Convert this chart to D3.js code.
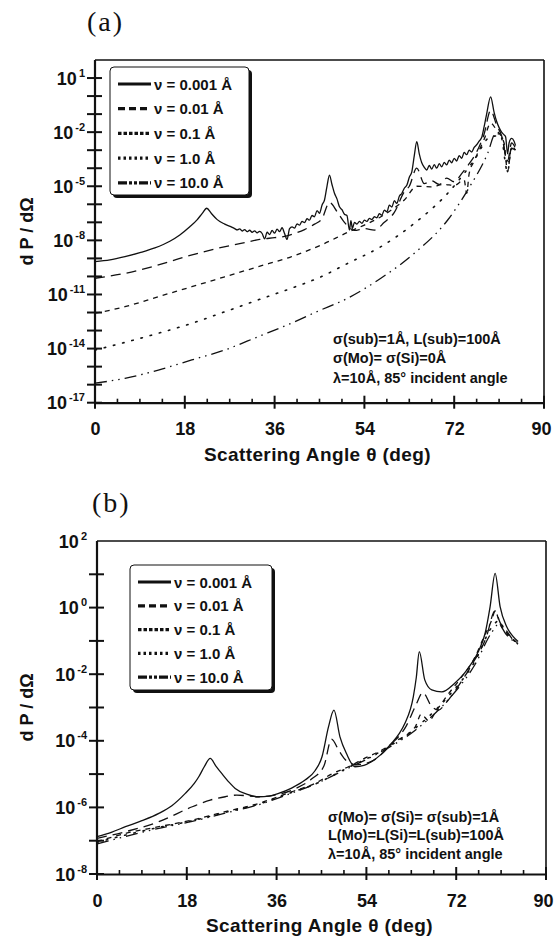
<!DOCTYPE html>
<html>
<head>
<meta charset="utf-8">
<script src="https://cdn.jsdelivr.net/npm/d3@7"></script>
<style>
  body { margin: 0; background: #fff; }
  text { font-family: "Liberation Sans", Arial, sans-serif; font-weight: bold; fill: #111; }
</style>
</head>
<body>
<svg id="chart" width="555" height="938"></svg>
<script>
// ---- data: scattering angle (deg) and log10(dP/dOmega) ----

// panel (a)
var a001Theta = [0, 3, 6, 9, 12, 15, 17, 19, 20.5, 21.5, 22.4, 23.3, 24.5, 26, 27.5, 28, 28.5, 29, 29.5, 30, 30.5, 31, 31.5, 32, 32.5, 33, 33.5, 34, 34.5, 35, 35.5, 36, 36.5, 37, 37.5, 38, 38.5, 39, 39.5, 40, 40.5, 41, 41.5, 42, 42.5, 43, 43.5, 44, 44.5, 45, 45.5, 46, 46.5, 47, 47.5, 48, 48.5, 49, 49.5, 50, 50.5, 51, 51.3, 51.6, 52, 52.5, 53, 53.5, 54, 54.5, 55, 55.5, 56, 56.5, 57, 57.5, 58, 58.5, 59, 59.5, 60, 60.5, 61, 61.5, 62, 62.5, 63, 63.5, 64, 64.5, 65, 65.5, 66, 66.5, 67, 67.5, 68, 68.5, 69, 69.5, 70, 70.5, 71, 71.5, 72, 72.5, 73, 73.5, 74, 74.5, 75, 75.5, 76, 76.5, 77, 77.5, 78, 78.5, 79.3, 80, 80.5, 81, 81.5, 82, 82.3, 82.7, 83, 83.5, 84, 84.3];
var a001Log = [-9.18, -9.08, -8.9, -8.68, -8.42, -8.05, -7.7, -7.25, -6.85, -6.5, -6.22, -6.5, -6.85, -7.1, -7.28, -7.35, -7.42, -7.36, -7.48, -7.4, -7.52, -7.44, -7.55, -7.47, -7.58, -7.5, -7.62, -7.92, -7.55, -7.68, -7.45, -7.6, -7.38, -7.52, -7.3, -7.62, -7.95, -7.35, -7.25, -7.32, -7.08, -7.15, -6.95, -7.02, -6.8, -6.88, -6.62, -6.69, -6.35, -6.5, -6.05, -5.76, -5.0, -4.38, -4.9, -5.39, -5.7, -6.14, -6.3, -6.55, -6.62, -7.43, -6.9, -7.35, -7.0, -7.1, -6.95, -7.05, -6.88, -6.95, -6.78, -6.85, -6.69, -6.75, -6.52, -6.6, -6.32, -6.42, -6.05, -6.15, -5.8, -5.95, -5.55, -5.4, -5.11, -4.95, -4.5, -4.2, -3.3, -2.53, -3.2, -3.7, -3.95, -4.1, -3.85, -4.05, -3.8, -4.0, -3.75, -3.92, -3.68, -3.82, -3.55, -3.7, -3.45, -3.6, -3.3, -3.45, -3.12, -3.25, -3.0, -3.1, -2.85, -2.7, -2.5, -2.3, -1.7, -1.0, -0.04, -0.9, -1.4, -1.75, -2.0, -2.15, -2.25, -3.2, -2.6, -2.35, -2.5, -2.75];

var a01Theta = [0, 6, 12, 18, 24, 30, 33, 36, 38, 40, 42, 44, 45.5, 47, 48.5, 50, 52, 54, 56, 58, 60, 62, 63, 64.5, 66, 67.5, 69, 70.5, 72, 73.5, 75, 76.5, 78, 79.3, 80.5, 81.5, 82.7, 83.5, 84.3];
var a01Log = [-10.1, -9.83, -9.42, -8.92, -8.48, -8.12, -7.95, -7.85, -7.78, -7.62, -7.4, -7.1, -6.8, -5.9, -6.4, -7.0, -7.45, -7.35, -7.43, -7.0, -6.45, -5.3, -5.0, -4.0, -4.85, -4.7, -4.9, -4.55, -4.75, -4.3, -3.75, -3.1, -2.1, -0.8, -1.6, -2.2, -3.6, -2.6, -2.9];

var a1Theta = [0, 6, 12.7, 19.4, 26, 32.7, 39.3, 45.3, 50.7, 54, 57.3, 60, 62, 64.5, 67.3, 70, 72, 74, 74.5, 75, 76, 78, 79.3, 80.5, 82, 82.7, 83.5, 84.3];
var a1Log = [-12.04, -11.68, -11.12, -10.57, -10.02, -9.46, -8.91, -8.26, -7.55, -7.15, -6.69, -6.2, -5.76, -5.0, -5.03, -4.9, -4.95, -4.65, -5.4, -4.3, -3.6, -2.4, -1.5, -1.9, -2.6, -4.2, -2.8, -3.0];

var a10Theta = [0, 4, 12.7, 19.4, 26, 32.7, 39.3, 45.3, 50.7, 57.3, 64, 70.7, 76, 79.3, 81.3, 82.7, 83.5, 84.3];
var a10Log = [-14.08, -13.8, -13.15, -12.6, -11.96, -11.3, -10.66, -10.02, -9.27, -8.35, -7.06, -5.39, -3.55, -2.25, -2.2, -4.2, -2.9, -3.0];

var a100Theta = [0, 6, 12.7, 19.4, 26, 32.7, 39.3, 44.5, 50.7, 57.3, 64, 70.7, 74.7, 78.7, 80.3, 81.5, 82.7, 83.5, 84.3];
var a100Log = [-15.92, -15.65, -15.19, -14.63, -14.08, -13.34, -12.6, -11.95, -11.2, -10.1, -8.72, -6.87, -5.21, -3.18, -2.07, -2.2, -3.8, -2.9, -3.0];

// panel (b)
var b001Theta = [0, 3, 5.7, 9, 12.4, 15, 17.7, 19.5, 20.4, 21.5, 22.7, 23.8, 25, 26.5, 27.7, 30, 32.4, 34.5, 36.4, 39, 41.7, 43.7, 45.1, 46.4, 47.5, 48.7, 50, 51.7, 53.5, 55, 57, 59, 60.5, 61.7, 63.4, 64, 64.6, 65.7, 67.1, 69.1, 71.7, 73.5, 75.1, 76.5, 77.8, 78.8, 79.8, 80.8, 82.1, 83.3, 84.4];
var b001Log = [-6.88, -6.74, -6.58, -6.4, -6.18, -5.95, -5.58, -5.28, -5.08, -4.78, -4.53, -4.75, -4.98, -5.25, -5.43, -5.6, -5.68, -5.66, -5.58, -5.42, -5.18, -4.9, -4.48, -3.58, -3.08, -3.88, -4.38, -4.78, -4.74, -4.63, -4.4, -4.08, -3.8, -3.48, -2.68, -2.1, -1.32, -2.17, -2.47, -2.53, -2.27, -2.0, -1.67, -1.3, -0.77, 0.03, 1.03, 0.03, -0.57, -0.85, -1.02];

var b01Theta = [0, 5.7, 12.4, 19.1, 22.7, 25.7, 28, 32.4, 36, 40, 43, 45.5, 47, 48.5, 50, 52, 55, 59, 62, 64, 65.3, 67, 68.4, 70, 72, 75, 78, 79.8, 80.8, 82.1, 83.3, 84.4];
var b01Log = [-6.93, -6.73, -6.43, -5.98, -5.78, -5.68, -5.63, -5.68, -5.62, -5.42, -5.15, -4.75, -3.95, -4.3, -4.6, -4.72, -4.62, -4.1, -3.55, -2.9, -2.55, -2.95, -3.08, -2.85, -2.45, -1.75, -0.9, -0.1, -0.45, -0.7, -0.95, -1.08];

var b1Theta = [0, 5.7, 12.4, 19.1, 25.7, 32.4, 39, 43.7, 47, 50.4, 54, 57.1, 60, 63.8, 65, 66.5, 68, 70.5, 73, 75.8, 77.5, 79.1, 79.8, 80.8, 82.1, 84.4];
var b1Log = [-7.03, -6.78, -6.58, -6.38, -6.13, -5.88, -5.53, -5.28, -5.0, -4.78, -4.5, -4.28, -4.0, -3.58, -3.2, -3.4, -3.1, -2.58, -2.1, -1.48, -0.9, -0.38, -0.1, -0.5, -0.75, -1.08];

var b10Theta = [0, 6, 12.4, 19.1, 25.7, 32.4, 39, 43.7, 50.4, 57.1, 63.8, 70.5, 75.8, 79.1, 80.5, 82, 84.4];
var b10Log = [-7.05, -6.82, -6.6, -6.4, -6.15, -5.9, -5.55, -5.3, -4.8, -4.3, -3.62, -2.65, -1.6, -0.6, -0.4, -0.75, -1.08];

var b100Theta = [0, 6, 12.4, 19.1, 25.7, 32.4, 39, 43.7, 50.4, 57.1, 63.8, 70.5, 75.8, 79.1, 80.5, 82, 84.4];
var b100Log = [-7.1, -6.86, -6.63, -6.42, -6.17, -5.92, -5.57, -5.3, -4.82, -4.32, -3.68, -2.75, -1.7, -0.75, -0.5, -0.8, -1.1];

// labels and ticks
var legendLabels = ["\u03bd = 0.001 \u00c5", "\u03bd = 0.01 \u00c5", "\u03bd = 0.1 \u00c5", "\u03bd = 1.0 \u00c5", "\u03bd = 10.0 \u00c5"];
var xTickValues = [0, 18, 36, 54, 72, 90];
var yLabelExpA = [1, -2, -5, -8, -11, -14, -17];
var yLabelExpB = [2, 0, -2, -4, -6, -8];
var notesA = ["\u03c3(sub)=1\u00c5, L(sub)=100\u00c5", "\u03c3(Mo)= \u03c3(Si)=0\u00c5", "\u03bb=10\u00c5, 85\u00b0 incident angle"];
var notesB = ["\u03c3(Mo)= \u03c3(Si)= \u03c3(sub)=1\u00c5", "L(Mo)=L(Si)=L(sub)=100\u00c5", "\u03bb=10\u00c5, 85\u00b0 incident angle"];

// ---- styles ----
var plotDash = [null, "10,6", "5,5", "1.5,8", "12,5,1.5,5,1.5,5"];
var legendDash = [null, "7,4", "3.5,2", "2.5,3", "9,2,3,2,3,2"];

var svg = d3.select("#chart");

function drawPanel(p) {
  var x = d3.scaleLinear().domain([0, 90]).range([p.left, p.right]);
  var y = d3.scaleLog().domain([Math.pow(10, p.minExp), Math.pow(10, p.maxExp)]).range([p.bottom, p.top]);
  var g = svg.append("g");

  // panel letter
  g.append("text")
    .attr("x", p.letterX).attr("y", p.letterY)
    .style("font-family", "'Liberation Serif', 'Times New Roman', serif")
    .style("font-weight", "normal")
    .style("font-size", "28px")
    .style("letter-spacing", "2px")
    .text(p.letter);

  // frame: top and right thin, left and bottom heavy
  g.append("line").attr("x1", p.left).attr("x2", p.right).attr("y1", p.top).attr("y2", p.top)
    .attr("stroke", "#111").attr("stroke-width", 1.6);
  g.append("line").attr("x1", p.right).attr("x2", p.right).attr("y1", p.top).attr("y2", p.bottom)
    .attr("stroke", "#111").attr("stroke-width", 1.6);

  // x axis
  var minor = d3.range(0, 90.1, 4.5).filter(function(d) { return d % 18 !== 0; });
  var xAxis = d3.axisBottom(x).tickValues(xTickValues).tickSize(0).tickPadding(20).tickFormat(d3.format("d"));
  var gx = g.append("g").attr("transform", "translate(0," + p.bottom + ")").call(xAxis);
  gx.select(".domain").attr("stroke", "#111").attr("stroke-width", 2.2);
  gx.selectAll("text").style("font-size", "18px").style("font-weight", "bold")
    .style("font-family", "'Liberation Sans', Arial, sans-serif").attr("fill", "#111")
    .attr("dx", function(d) { return d === 90 ? -3 : 0; });
  gx.selectAll(".tick line").remove();
  gx.selectAll(".major").data(xTickValues).enter().append("line")
    .attr("x1", function(d) { return x(d); }).attr("x2", function(d) { return x(d); })
    .attr("y1", -7).attr("y2", 6).attr("stroke", "#111").attr("stroke-width", 2);
  gx.selectAll(".minor").data(minor).enter().append("line")
    .attr("x1", function(d) { return x(d); }).attr("x2", function(d) { return x(d); })
    .attr("y1", -4).attr("y2", 0).attr("stroke", "#111").attr("stroke-width", 1.6);

  // y axis
  g.append("line").attr("x1", p.left).attr("x2", p.left).attr("y1", p.top).attr("y2", p.bottom)
    .attr("stroke", "#111").attr("stroke-width", 2.2);
  var decades = d3.range(p.minExp, p.maxExp);
  g.selectAll(".ytick").data(decades).enter().append("line")
    .attr("x1", p.left - 8).attr("x2", p.left + 7)
    .attr("y1", function(d) { return y(Math.pow(10, d)); })
    .attr("y2", function(d) { return y(Math.pow(10, d)); })
    .attr("stroke", "#111").attr("stroke-width", 2);
  var lab = g.selectAll(".ylab").data(p.labels).enter().append("text")
    .attr("x", p.left - 10)
    .attr("y", function(d) { return y(Math.pow(10, d)) + 6.5; })
    .attr("text-anchor", "end")
    .style("font-size", "18px");
  lab.append("tspan").text("10");
  lab.append("tspan").attr("dx", 2).attr("dy", -8).style("font-size", "11px")
    .text(function(d) { return d; });

  // axis titles
  g.append("text")
    .attr("transform", "translate(33," + ((p.top + p.bottom) / 2) + ") rotate(-90)")
    .attr("text-anchor", "middle")
    .style("font-size", "18px")
    .text("d P / d\u03a9");
  g.append("text")
    .attr("x", (p.left + p.right) / 2 - 2).attr("y", p.bottom + 58)
    .attr("text-anchor", "middle")
    .style("font-size", "19px")
    .style("letter-spacing", "0.4px")
    .text("Scattering Angle  \u03b8 (deg)");

  // curves
  var line = d3.line()
    .x(function(d) { return x(d[0]); })
    .y(function(d) { return y(Math.pow(10, d[1])); })
    .curve(d3.curveMonotoneX);
  p.series.forEach(function(s, i) {
    var pts = d3.zip(s[0], s[1]);
    g.append("path").datum(pts)
      .attr("d", line)
      .attr("fill", "none")
      .attr("stroke", "#111")
      .attr("stroke-width", i === 3 ? 1.6 : 1.3)
      .attr("stroke-linecap", i === 3 ? "round" : "butt")
      .attr("stroke-dasharray", plotDash[i]);
  });

  // legend
  var lg = g.append("g");
  lg.append("rect").attr("x", p.legX + 3).attr("y", p.legY + 3)
    .attr("width", p.legW).attr("height", p.legH).attr("rx", 4).attr("fill", "#111");
  lg.append("rect").attr("x", p.legX).attr("y", p.legY)
    .attr("width", p.legW).attr("height", p.legH).attr("rx", 4)
    .attr("fill", "#fff").attr("stroke", "#111").attr("stroke-width", 1);
  legendLabels.forEach(function(t, i) {
    var cy = p.legY + p.legRow0 + i * p.legStep;
    lg.append("line").attr("x1", p.legX + 8).attr("x2", p.legX + 41)
      .attr("y1", cy).attr("y2", cy)
      .attr("stroke", "#111").attr("stroke-width", 3.2)
      .attr("stroke-dasharray", legendDash[i]);
    lg.append("text").attr("x", p.legX + 44).attr("y", cy + 5.5)
      .style("font-size", "15px").text(t);
  });

  // notes
  p.notes.forEach(function(t, i) {
    g.append("text").attr("x", p.noteX).attr("y", p.noteY[i])
      .style("font-size", "14.5px").text(t);
  });
}

drawPanel({
  letter: "(a)", letterX: 87, letterY: 31,
  left: 95, right: 544, top: 60, bottom: 402.7, minExp: -17, maxExp: 2,
  labels: yLabelExpA,
  series: [[a001Theta, a001Log], [a01Theta, a01Log], [a1Theta, a1Log], [a10Theta, a10Log], [a100Theta, a100Log]],
  legX: 110, legY: 67, legW: 139, legH: 128, legRow0: 17, legStep: 24.7,
  notes: notesA, noteX: 333, noteY: [344, 363, 383]
});

drawPanel({
  letter: "(b)", letterX: 92, letterY: 512,
  left: 97, right: 546, top: 541, bottom: 874, minExp: -8, maxExp: 2,
  labels: yLabelExpB,
  series: [[b001Theta, b001Log], [b01Theta, b01Log], [b1Theta, b1Log], [b10Theta, b10Log], [b100Theta, b100Log]],
  legX: 130, legY: 565, legW: 142, legH: 125, legRow0: 17, legStep: 23.8,
  notes: notesB, noteX: 328, noteY: [822, 840, 859]
});
</script>
</body>
</html>
